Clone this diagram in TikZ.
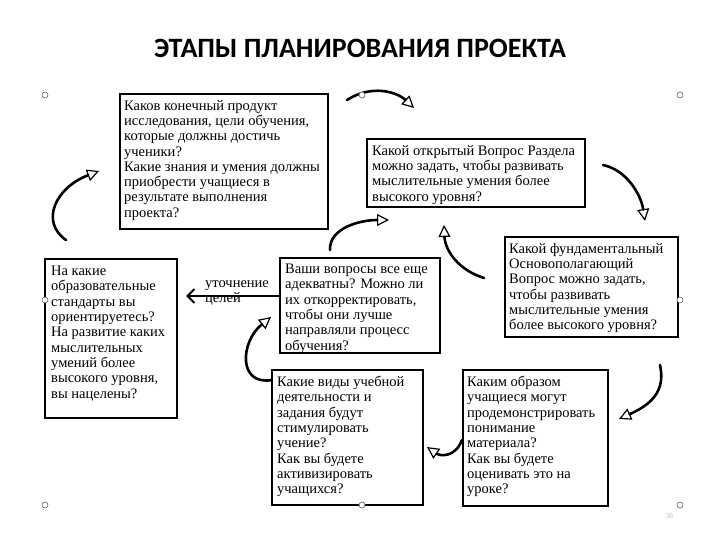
\documentclass[tikz,border=0pt]{standalone}
\usepackage{fontspec}
\setmainfont{Liberation Serif}
\newfontfamily\titlefont{Carlito}
\usetikzlibrary{arrows.meta,calc}
\begin{document}
\begin{tikzpicture}[x=1pt,y=-1pt,
  boxframe/.style={draw=black,line width=1.8pt,fill=white,inner sep=0pt},
  boxtext/.style={anchor=north west,inner sep=0pt,align=left,
    font=\fontsize{14.5pt}{15.3pt}\selectfont},
  curvarrow/.style={line width=2.6pt,line cap=round,
    -{Triangle[open,length=12pt,width=12pt,line width=1.2pt]}},
  handle/.style={draw=black!70,fill=white,line width=0.5pt,circle,inner sep=0pt,minimum size=6pt}]
\useasboundingbox[fill=white] (0,0) rectangle (720,540);
\node[font=\titlefont\bfseries\fontsize{28pt}{30pt}\selectfont] (title) at (360,48) {ЭТАПЫ ПЛАНИРОВАНИЯ ПРОЕКТА};
% boxes
\draw[boxframe] (120,94) rectangle (328,229);
\node[boxtext] (t1) at (124,100) {Каков конечный продукт\\исследования, цели обучения,\\которые должны достичь\\ученики?\\Какие знания и умения должны\\приобрести учащиеся в\\результате выполнения\\проекта?};
\draw[boxframe] (367,139) rectangle (585,207);
\node[boxtext] (t2) at (372,145) {Какой открытый Вопрос Раздела\\можно задать, чтобы развивать\\мыслительные умения более\\высокого уровня?};
\draw[boxframe] (45,259) rectangle (177,418);
\node[boxtext] (t3) at (51,266) {На какие\\образовательные\\стандарты вы\\ориентируетесь?\\На развитие каких\\мыслительных\\умений более\\высокого уровня,\\вы нацелены?};
\draw[boxframe] (280,258) rectangle (440,353);
\node[boxtext] (t4) at (285,264) {Ваши вопросы все еще\\адекватны? Можно ли\\их откорректировать,\\чтобы они лучше\\направляли процесс\\обучения?};
\draw[boxframe] (505,237) rectangle (678,337);
\node[boxtext] (t5) at (509,243) {Какой фундаментальный\\Основополагающий\\Вопрос можно задать,\\чтобы развивать\\мыслительные умения\\более высокого уровня?};
\draw[boxframe] (272,370) rectangle (423,505);
\node[boxtext] (t6) at (277,376) {Какие виды учебной\\деятельности и\\задания будут\\стимулировать\\учение?\\Как вы будете\\активизировать\\учащихся?};
\draw[boxframe] (463,370) rectangle (608,506);
\node[boxtext] (t7) at (467,376) {Каким образом\\учащиеся могут\\продемонстрировать\\понимание\\материала?\\Как вы будете\\оценивать это на\\уроке?};
% straight arrow with label
\coordinate (sS) at (280,296);
\coordinate (sE) at (186,296);
\draw[line width=2.2pt,-{Straight Barb[length=7pt,width=14pt,line width=2pt]}] (sS) -- (sE);
\node[boxtext] (lab) at (205,280) {уточнение\\целей};
% curved arrows
\coordinate (aS) at (66,240); \coordinate (aE) at (99,171);
\draw[curvarrow] (aS) .. controls (40,222) and (55,188) .. (aE);
\coordinate (bS) at (347,100); \coordinate (bE) at (414,108);
\draw[curvarrow] (bS) .. controls (372,84) and (397,92) .. (bE);
\coordinate (cS) at (603,165); \coordinate (cE) at (645,221);
\draw[curvarrow] (cS) .. controls (627,170) and (641,195) .. (cE);
\coordinate (dS) at (330,250); \coordinate (dE) at (389,220);
\draw[curvarrow] (dS) .. controls (329,228) and (360,220) .. (dE);
\coordinate (eS) at (484,278); \coordinate (eE) at (444,225);
\draw[curvarrow] (eS) .. controls (458,270) and (445,250) .. (eE);
\coordinate (fS) at (272,380); \coordinate (fE) at (271,317);
\draw[curvarrow] (fS) .. controls (238,386) and (240,342) .. (fE);
\coordinate (gS) at (462,440); \coordinate (gE) at (427,447);
\draw[curvarrow] (gS) .. controls (455,458) and (440,456) .. (gE);
\coordinate (hS) at (660,365); \coordinate (hE) at (619,419);
\draw[curvarrow] (hS) .. controls (666,392) and (650,405) .. (hE);
% selection handles
\foreach \n/\p in {h1/{(45,95)},h2/{(362,95)},h3/{(680,95)},h4/{(45,300)},h5/{(680,300)},h6/{(45,505)},h7/{(362,505)},h8/{(680,505)}}
  \node[handle] (\n) at \p {};
\node[text=black!25,font=\fontsize{8pt}{9pt}\selectfont] (pnum) at (669,516) {38};
\end{tikzpicture}
\end{document}
